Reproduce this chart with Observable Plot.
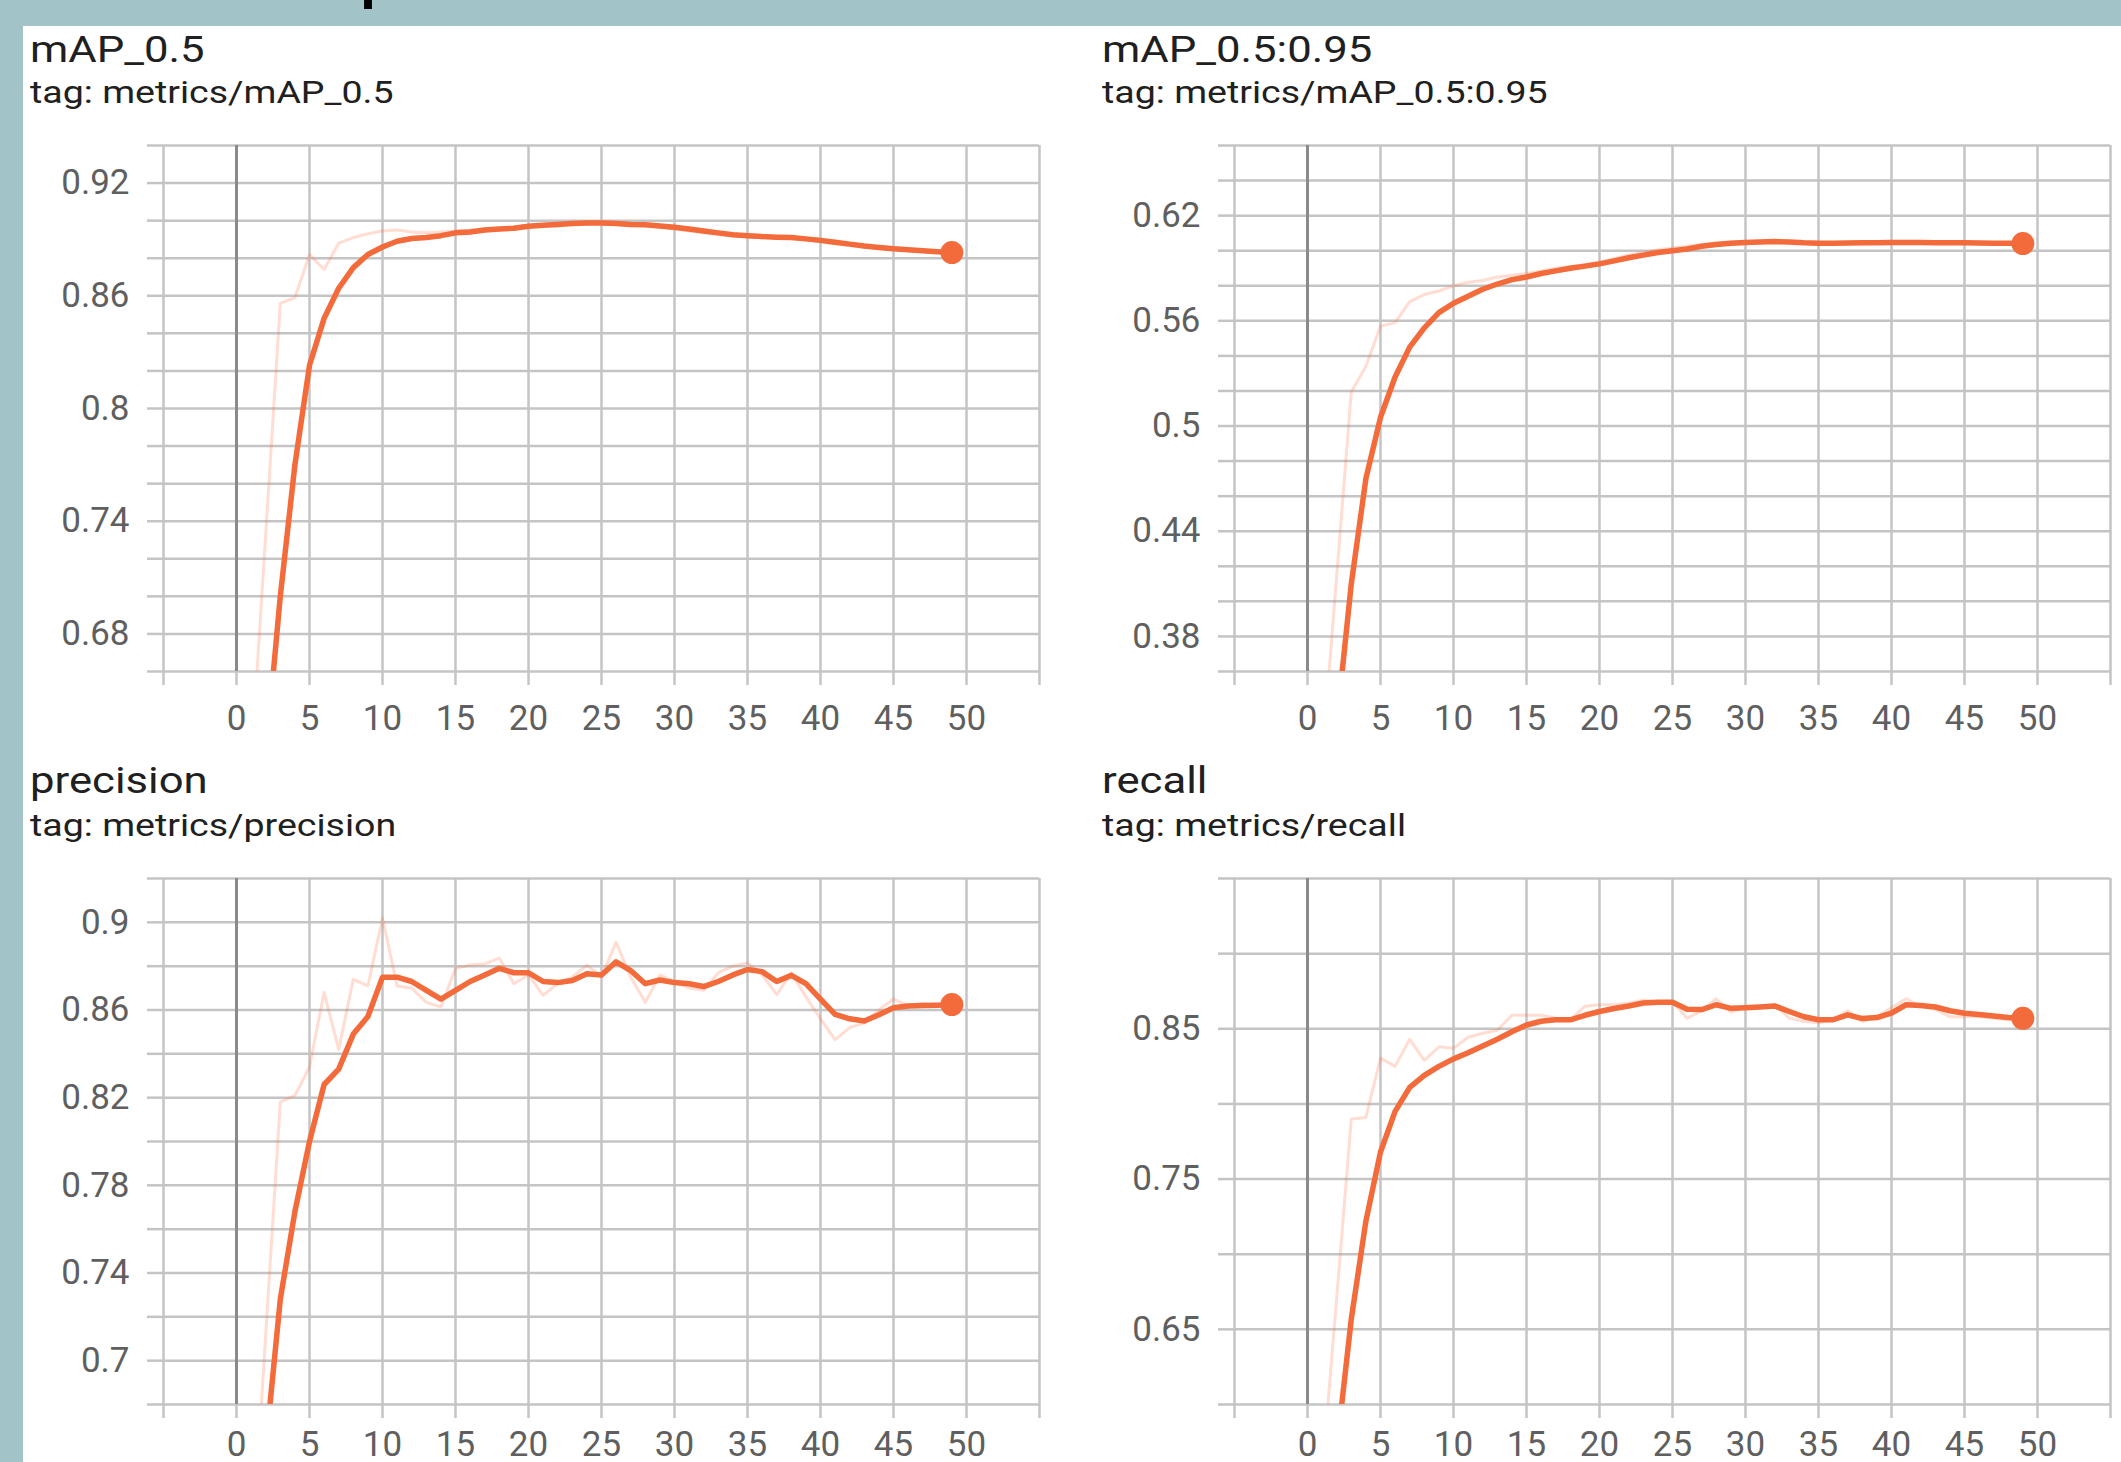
<!DOCTYPE html>
<html>
<head>
<meta charset="utf-8">
<script src="https://cdn.jsdelivr.net/npm/d3@7"></script>
<script src="https://cdn.jsdelivr.net/npm/@observablehq/plot@0.6"></script>
<style>
html, body { margin: 0; padding: 0; }
body { width: 2121px; height: 1462px; background: #a2c3c8; position: relative; overflow: hidden; font-family: Roboto, sans-serif; }
#sheet { position: absolute; left: 23px; top: 26px; width: 2098px; height: 1436px; background: #ffffff; }
.title { position: absolute; font-family: Roboto, sans-serif; font-size: 37px; line-height: 1; color: #202020; white-space: nowrap; transform-origin: 0 0; transform: scaleX(1.18); }
.sub { position: absolute; font-family: Roboto, sans-serif; font-size: 31px; line-height: 1; color: #202020; white-space: nowrap; transform-origin: 0 0; transform: scaleX(1.21); }
.panel { position: absolute; }
#cut { position: absolute; left: 361px; top: -49px; font-family: Roboto, sans-serif; font-weight: bold; font-size: 56px; line-height: 1; color: #000; }
</style>
</head>
<body>
<div id="cut">p</div>
<div id="sheet"></div>
<div id="root"></div>
<script>
// ---------- data ----------
const epochs = [0,1,2,3,4,5,6,7,8,9,10,11,12,13,14,15,16,17,18,19,20,21,22,23,24,25,26,27,28,29,30,31,32,33,34,35,36,37,38,39,40,41,42,43,44,45,46,47,48,49];

const xGrid = [-5,0,5,10,15,20,25,30,35,40,45,50,55];
const xLabels = [0,5,10,15,20,25,30,35,40,45,50];

// mAP_0.5
const map05Smooth = [0.30,0.45,0.615,0.700,0.770,0.823,0.848,0.864,0.875,0.882,0.886,0.889,0.8905,0.891,0.892,0.8935,0.894,0.895,0.8955,0.896,0.897,0.8975,0.898,0.8985,0.8988,0.8988,0.8985,0.898,0.8978,0.8972,0.8965,0.8955,0.8945,0.8935,0.8925,0.892,0.8915,0.8912,0.891,0.8903,0.8895,0.8885,0.8875,0.8865,0.8857,0.885,0.8845,0.884,0.8835,0.883];
const map05Raw = [0.30,0.61,0.733,0.856,0.859,0.882,0.874,0.888,0.891,0.893,0.8945,0.895,0.894,0.8935,0.894,0.8945,0.895,0.8955,0.896,0.8965,0.8975,0.898,0.8985,0.899,0.899,0.8988,0.898,0.8978,0.8975,0.8965,0.8955,0.8945,0.8935,0.8925,0.892,0.8915,0.8912,0.891,0.8905,0.8898,0.8888,0.8878,0.8868,0.886,0.8852,0.8846,0.884,0.8836,0.8832,0.8828];
const map05Grid = [0.66,0.68,0.70,0.72,0.74,0.76,0.78,0.80,0.82,0.84,0.86,0.88,0.90,0.92,0.94];
const map05Labels = [0.68,0.74,0.8,0.86,0.92];

// mAP_0.5:0.95
const map5095Smooth = [0.15,0.25,0.33,0.41,0.47,0.505,0.528,0.545,0.556,0.5647,0.570,0.574,0.578,0.581,0.5835,0.585,0.587,0.5885,0.590,0.5912,0.5925,0.5942,0.596,0.5975,0.599,0.600,0.601,0.6025,0.6035,0.6042,0.6047,0.605,0.6052,0.605,0.6045,0.6043,0.6043,0.6044,0.6045,0.6046,0.6047,0.6047,0.6047,0.6046,0.6046,0.6045,0.6044,0.6043,0.6042,0.6041];
const map5095Raw = [0.20,0.31,0.4146,0.5195,0.534,0.557,0.559,0.571,0.575,0.577,0.580,0.582,0.583,0.585,0.586,0.587,0.5885,0.590,0.591,0.592,0.5935,0.5955,0.5975,0.599,0.6005,0.6015,0.6025,0.6035,0.6045,0.605,0.6052,0.6053,0.6052,0.6047,0.6043,0.6042,0.6044,0.6045,0.6046,0.6047,0.6048,0.6047,0.6046,0.6046,0.6045,0.6044,0.6043,0.6042,0.6041,0.604];
const map5095Grid = [0.36,0.38,0.40,0.42,0.44,0.46,0.48,0.50,0.52,0.54,0.56,0.58,0.60,0.62,0.64,0.66];
const map5095Labels = [0.38,0.44,0.5,0.56,0.62];

// precision
const precSmooth = [0.40,0.55,0.66,0.728,0.768,0.800,0.826,0.833,0.849,0.857,0.875,0.875,0.873,0.869,0.865,0.869,0.873,0.876,0.879,0.877,0.877,0.873,0.8725,0.8735,0.8765,0.876,0.882,0.878,0.872,0.8737,0.8725,0.872,0.8707,0.873,0.876,0.8785,0.8775,0.873,0.8758,0.872,0.865,0.858,0.856,0.855,0.8578,0.861,0.8618,0.862,0.8622,0.8625];
const precRaw = [0.40,0.605,0.712,0.818,0.821,0.834,0.868,0.842,0.874,0.871,0.902,0.871,0.870,0.8635,0.8614,0.879,0.8805,0.881,0.8837,0.872,0.876,0.8667,0.872,0.875,0.8805,0.875,0.891,0.875,0.8635,0.876,0.873,0.870,0.869,0.877,0.880,0.8815,0.876,0.867,0.877,0.866,0.856,0.8465,0.852,0.854,0.860,0.865,0.862,0.863,0.862,0.863];
const precGrid = [0.68,0.70,0.72,0.74,0.76,0.78,0.80,0.82,0.84,0.86,0.88,0.90,0.92];
const precLabels = [0.7,0.74,0.78,0.82,0.86,0.9];

// recall
const recSmooth = [0.35,0.45,0.57,0.657,0.722,0.768,0.795,0.811,0.819,0.825,0.830,0.834,0.8385,0.843,0.848,0.8525,0.855,0.856,0.856,0.859,0.8615,0.8635,0.8652,0.8672,0.8676,0.8676,0.863,0.8628,0.866,0.8636,0.864,0.8645,0.8652,0.8615,0.858,0.856,0.856,0.8593,0.8568,0.8575,0.8605,0.866,0.8655,0.8645,0.862,0.8603,0.8595,0.8585,0.8575,0.857];
const recRaw = [0.40,0.553,0.671,0.790,0.791,0.8305,0.825,0.843,0.829,0.838,0.837,0.8444,0.847,0.849,0.859,0.859,0.859,0.857,0.856,0.865,0.866,0.866,0.867,0.869,0.868,0.868,0.857,0.862,0.870,0.861,0.865,0.865,0.866,0.857,0.855,0.854,0.856,0.862,0.855,0.858,0.864,0.870,0.865,0.863,0.858,0.858,0.858,0.857,0.856,0.856];
const recGrid = [0.60,0.65,0.70,0.75,0.80,0.85,0.90,0.95];
const recLabels = [0.65,0.75,0.85];

const panels = [
  {title: "mAP_0.5", tag: "tag: metrics/mAP_0.5", smooth: map05Smooth, raw: map05Raw, grid: map05Grid, labels: map05Labels, domain: [0.66, 0.94], col: 0, row: 0},
  {title: "mAP_0.5:0.95", tag: "tag: metrics/mAP_0.5:0.95", smooth: map5095Smooth, raw: map5095Raw, grid: map5095Grid, labels: map5095Labels, domain: [0.36, 0.66], col: 1, row: 0},
  {title: "precision", tag: "tag: metrics/precision", smooth: precSmooth, raw: precRaw, grid: precGrid, labels: precLabels, domain: [0.68, 0.92], col: 0, row: 1},
  {title: "recall", tag: "tag: metrics/recall", smooth: recSmooth, raw: recRaw, grid: recGrid, labels: recLabels, domain: [0.60, 0.95], col: 1, row: 1}
];

// ---------- layout ----------
const frameLeft = [163, 1234];
const frameTop = [145, 878];
const titleLeft = [30, 1102];
const titleBaseline = [62, 793];
const subBaseline = [103, 836];
const xPad = [20, 13];
const frameW = 876, frameH = 526;
const mL = 140, mR = 10, mT = 10, mB = 62;

const gridColor = "#c4c4c4";
const labelColor = "#5f5f5f";
const lineColor = "#f36a3b";

const root = document.getElementById("root");

for (const p of panels) {
  const rows = epochs.map((e, i) => ({epoch: e, raw: p.raw[i], smooth: p.smooth[i]}));
  const last = rows[rows.length - 1];

  const t = document.createElement("div");
  t.className = "title";
  t.textContent = p.title;
  t.style.left = titleLeft[p.col] + "px";
  t.style.top = (titleBaseline[p.row] - 0.8415 * 37) + "px";
  root.appendChild(t);

  const s = document.createElement("div");
  s.className = "sub";
  s.textContent = p.tag;
  s.style.left = titleLeft[p.col] + "px";
  s.style.top = (subBaseline[p.row] - 0.8415 * 31) + "px";
  root.appendChild(s);

  const chart = Plot.plot({
    width: mL + frameW + mR,
    height: mT + frameH + mB,
    marginLeft: mL, marginRight: mR, marginTop: mT, marginBottom: mB,
    x: {domain: [-5, 55]},
    y: {domain: p.domain},
    style: {fontFamily: "Roboto, sans-serif", fontSize: "35px", background: "transparent", overflow: "visible"},
    marks: [
      Plot.gridX({ticks: xGrid, stroke: gridColor, strokeOpacity: 1, strokeWidth: 2.5}),
      Plot.gridY({ticks: p.grid, stroke: gridColor, strokeOpacity: 1, strokeWidth: 2.5}),
      Plot.axisX({ticks: xGrid, tickSize: 14, tickPadding: xPad[p.row], label: null,
        tickFormat: d => xLabels.includes(d) ? String(d) : "",
        stroke: gridColor, strokeWidth: 2.5, fill: labelColor}),
      Plot.axisY({ticks: p.grid, tickSize: 16, tickPadding: 18, label: null,
        tickFormat: d => p.labels.includes(d) ? String(d) : "",
        stroke: gridColor, strokeWidth: 2.5, fill: labelColor}),
      Plot.ruleX([0], {stroke: "#8a8a8a", strokeWidth: 3}),
      Plot.line(rows, {x: "epoch", y: "raw", stroke: "#ff7043", strokeOpacity: 0.24, strokeWidth: 3, clip: true}),
      Plot.line(rows, {x: "epoch", y: "smooth", stroke: lineColor, strokeWidth: 5.5, clip: true}),
      Plot.dot([last], {x: "epoch", y: "smooth", r: 11.5, fill: lineColor})
    ]
  });
  chart.classList.add("panel");
  chart.style.left = (frameLeft[p.col] - mL) + "px";
  chart.style.top = (frameTop[p.row] - mT) + "px";
  root.appendChild(chart);
}
</script>
</body>
</html>
